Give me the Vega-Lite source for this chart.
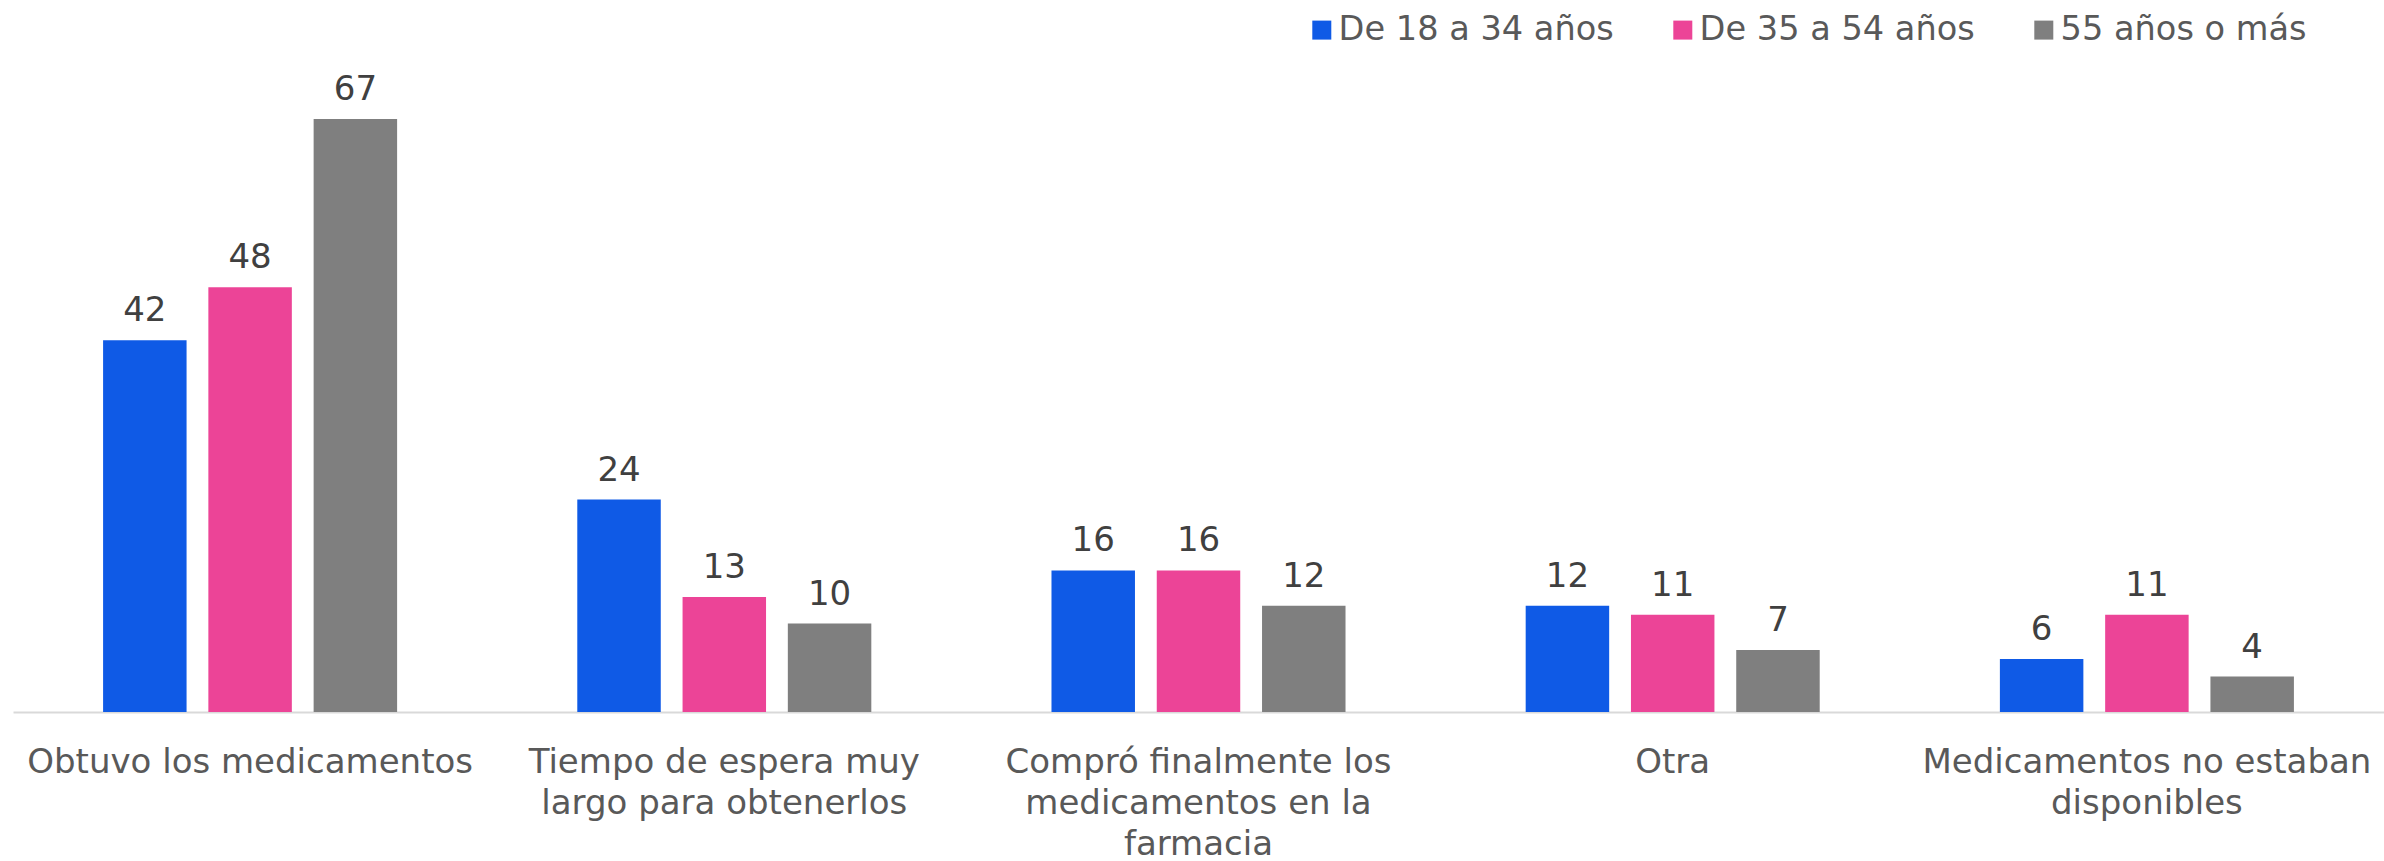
{
  "$schema": "https://vega.github.io/schema/vega-lite/v6.json",
  "width": 2371,
  "height": 708,
  "autosize": {"type": "none"},
  "padding": {"left": 13, "top": 4, "right": 0, "bottom": 149},
  "background": "white",
  "config": {"view": {"stroke": null}, "font": "DejaVu Sans"},
  "data": {
    "values": [
      {"motivo": "Obtuvo los medicamentos", "edad": "De 18 a 34 años", "valor": 42},
      {"motivo": "Obtuvo los medicamentos", "edad": "De 35 a 54 años", "valor": 48},
      {"motivo": "Obtuvo los medicamentos", "edad": "55 años o más", "valor": 67},
      {"motivo": "Tiempo de espera muy largo para obtenerlos", "edad": "De 18 a 34 años", "valor": 24},
      {"motivo": "Tiempo de espera muy largo para obtenerlos", "edad": "De 35 a 54 años", "valor": 13},
      {"motivo": "Tiempo de espera muy largo para obtenerlos", "edad": "55 años o más", "valor": 10},
      {"motivo": "Compró finalmente los medicamentos en la farmacia", "edad": "De 18 a 34 años", "valor": 16},
      {"motivo": "Compró finalmente los medicamentos en la farmacia", "edad": "De 35 a 54 años", "valor": 16},
      {"motivo": "Compró finalmente los medicamentos en la farmacia", "edad": "55 años o más", "valor": 12},
      {"motivo": "Otra", "edad": "De 18 a 34 años", "valor": 12},
      {"motivo": "Otra", "edad": "De 35 a 54 años", "valor": 11},
      {"motivo": "Otra", "edad": "55 años o más", "valor": 7},
      {"motivo": "Medicamentos no estaban disponibles", "edad": "De 18 a 34 años", "valor": 6},
      {"motivo": "Medicamentos no estaban disponibles", "edad": "De 35 a 54 años", "valor": 11},
      {"motivo": "Medicamentos no estaban disponibles", "edad": "55 años o más", "valor": 4}
    ]
  },
  "encoding": {
    "x": {
      "field": "motivo",
      "type": "nominal",
      "sort": null,
      "scale": {"paddingInner": 0.334, "paddingOuter": 0.167},
      "axis": {
        "title": null,
        "labelAngle": 0,
        "domain": true,
        "domainColor": "#D9D9D9",
        "domainWidth": 2,
        "ticks": false,
        "labelFontSize": 34,
        "labelColor": "#595959",
        "labelPadding": 33,
        "labelLimit": 0,
        "labelLineHeight": 41,
        "labelOverlap": false,
        "labelBound": false,
        "labelExpr": "datum.value == 'Tiempo de espera muy largo para obtenerlos' ? ['Tiempo de espera muy', 'largo para obtenerlos'] : datum.value == 'Compró finalmente los medicamentos en la farmacia' ? ['Compró finalmente los', 'medicamentos en la', 'farmacia'] : datum.value == 'Medicamentos no estaban disponibles' ? ['Medicamentos no estaban', 'disponibles'] : datum.value"
      }
    },
    "xOffset": {
      "field": "edad",
      "type": "nominal",
      "sort": ["De 18 a 34 años", "De 35 a 54 años", "55 años o más"],
      "scale": {"paddingInner": 0.207, "paddingOuter": 0.1035}
    },
    "y": {
      "field": "valor",
      "type": "quantitative",
      "scale": {"domain": [0, 80]},
      "axis": null
    }
  },
  "layer": [
    {
      "mark": {"type": "bar"},
      "encoding": {
        "color": {
          "field": "edad",
          "type": "nominal",
          "scale": {
            "domain": ["De 18 a 34 años", "De 35 a 54 años", "55 años o más"],
            "range": ["#0F5AE6", "#EC4497", "#7F7F7F"]
          },
          "legend": {
            "orient": "none",
            "legendX": 1292,
            "legendY": 9,
            "direction": "horizontal",
            "title": null,
            "symbolType": "square",
            "symbolSize": 361,
            "symbolStrokeWidth": 0,
            "labelFontSize": 33.6,
            "labelColor": "#595959",
            "labelLimit": 0,
            "labelOffset": 0,
            "columnPadding": 52,
            "padding": 0
          }
        }
      }
    },
    {
      "mark": {"type": "text", "dy": -19, "baseline": "alphabetic", "fontSize": 34, "color": "#404040"},
      "encoding": {"text": {"field": "valor", "type": "quantitative"}}
    }
  ]
}
